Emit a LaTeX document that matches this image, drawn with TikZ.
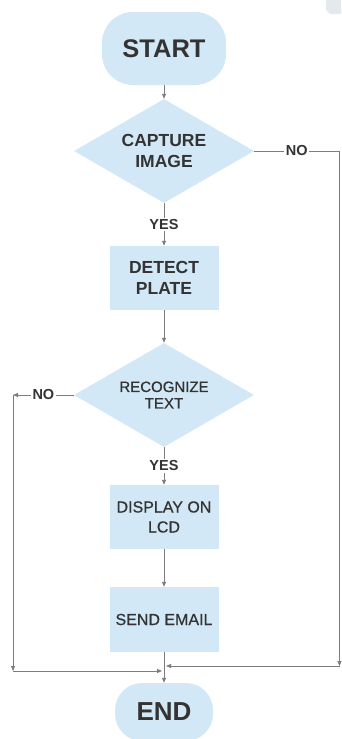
\documentclass[tikz,border=0pt]{standalone}
\usepackage{fontspec}
\setmainfont{Liberation Sans}
\newfontfamily\medfont[FakeBold=0.7]{Liberation Sans}
\usetikzlibrary{shapes.geometric,arrows.meta}
\definecolor{boxfill}{RGB}{211,232,246}
\definecolor{linegray}{RGB}{125,125,125}
\definecolor{txt}{RGB}{51,51,51}
\definecolor{patch}{RGB}{228,233,238}
\begin{document}
\begin{tikzpicture}[x=1pt,y=-1pt,
  term/.style={rectangle, rounded corners=31pt, fill=boxfill, text=txt, inner sep=0pt},
  proc/.style={rectangle, fill=boxfill, text=txt, align=center, inner sep=0pt,
    minimum width=109pt, minimum height=64pt},
  dec/.style={diamond, aspect=2.2, fill=boxfill, text=txt, align=center, inner sep=0pt,
    minimum width=180pt, minimum height=104pt},
  lbl/.style={fill=white, text=txt, font=\bfseries\fontsize{14.5}{16}\selectfont, inner sep=1.5pt},
  arr/.style={draw=linegray, line width=0.8pt, -{Triangle[length=5pt,width=4pt]}},
  bigb/.style={font=\bfseries\fontsize{17.5}{20.5}\selectfont},
  reg/.style={font=\medfont\fontsize{16}{20}\selectfont}
]
\useasboundingbox (0,0) rectangle (341,739);
\fill[patch] (326,0) -- (341,0) -- (341,14) -- (330,14) -- (326,10) -- cycle;

\node[term, minimum width=124pt, minimum height=73pt, font=\bfseries\fontsize{25.5}{28}\selectfont] (start) at (164,48.5) {START};
\node[dec, bigb] (cap) at (164,151) {CAPTURE\\IMAGE};
\node[proc, bigb] (det) at (164,278) {DETECT\\PLATE};
\node[dec, font=\medfont\fontsize{15}{16.5}\selectfont] (rec) at (164,395) {RECOGNIZE\\TEXT};
\node[proc, reg] (disp) at (164,517) {DISPLAY ON\\LCD};
\node[proc, reg, minimum height=65pt] (send) at (164,619.5) {SEND EMAIL};
\node[term, minimum width=98pt, minimum height=58pt, rounded corners=27pt, font=\bfseries\fontsize{26}{28}\selectfont] (end) at (164,712) {END};

\coordinate (cR) at (339.5,666);
\coordinate (jR) at (166,666);
\coordinate (lT) at (13,395);
\coordinate (lB) at (13,671);
\coordinate (jL) at (162,671);

\draw[arr] (start.south) -- (cap.north);
\draw[arr] (cap.south) -- node[lbl]{YES} (det.north);
\draw[arr] (det.south) -- (rec.north);
\draw[arr] (rec.south) -- node[lbl]{YES} (disp.north);
\draw[arr] (disp.south) -- (send.north);
\draw[arr] (send.south) -- (end.north);

\draw[arr] (cap.east) -- node[lbl]{NO} (cap.east -| cR) -- (cR);
\draw[arr] (cR) -- (jR);

\draw[arr] (rec.west) -- node[lbl]{NO} (lT);
\draw[arr] (lT) -- (lB);
\draw[arr] (lB) -- (jL);
\end{tikzpicture}
\end{document}
